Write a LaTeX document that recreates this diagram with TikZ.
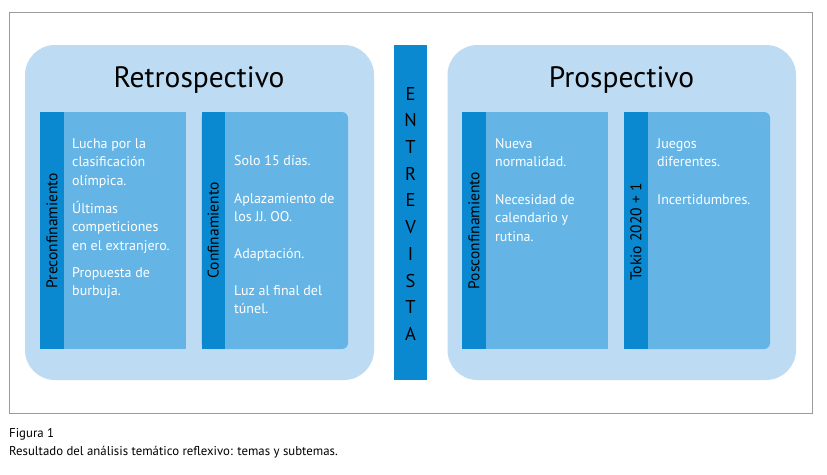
\documentclass[tikz,border=0pt]{standalone}
\usepackage{fontspec}
\setmainfont{PT Sans}
\definecolor{outerblue}{HTML}{BDDCF3}
\definecolor{midblue}{HTML}{64B5E6}
\definecolor{darkblue}{HTML}{0A89D1}
\definecolor{framegray}{HTML}{9A9A9A}
\tikzset{
  outerbox/.style={fill=outerblue, rounded corners=30pt, inner sep=0pt},
  midsq/.style={fill=midblue, inner sep=0pt},
  midrd/.style={fill=midblue, rounded corners=6pt, inner sep=0pt},
  strip/.style={fill=darkblue, inner sep=0pt},
  title/.style={font=\fontsize{29.5}{31}\selectfont, text=black, inner sep=0pt},
  vlabel/.style={font=\fontsize{15.5}{17}\selectfont, rotate=90, text=black, inner sep=0pt},
  body/.style={font=\fontsize{14}{16}\selectfont, text=white, anchor=base west, inner sep=0pt},
  letter/.style={font=\fontsize{18.5}{20}\selectfont, text=black, inner sep=0pt},
  captext/.style={font=\fontsize{12.8}{14}\selectfont, text=black, anchor=base west, inner sep=0pt}
}
\begin{document}
\begin{tikzpicture}[x=1pt,y=-1pt]
\useasboundingbox (0,0) rectangle (827,474);
\fill[white] (0,0) rectangle (827,474);
\draw[framegray, line width=1pt] (9.5,12.5) rectangle (812,413);

% outer boxes
\path[outerbox] (25,45) rectangle (374,380);
\node[title] (tR) at (199,80) {Retrospectivo};
\path[outerbox] (447.5,45) rectangle (796,380);
\node[title] (tP) at (621.5,80) {Prospectivo};

% ENTREVISTA bar
\node[strip, minimum width=33pt, minimum height=335pt] (bar) at (410.5,212.5) {};
\foreach \l/\yy [count=\i] in {E/94,N/120.5,T/147,R/174,E/200.5,V/227.5,I/254,S/281,T/307.5,A/334}
  \node[letter] (L\i) at (410.5,\yy) {\l};

% Preconfinamiento
\node[midsq, minimum width=146pt, minimum height=237pt] (preB) at (113,230.5) {};
\node[strip, minimum width=24pt, minimum height=237pt] (preS) at (52,230.5) {};
\node[vlabel] (preL) at (52,230.5) {Preconfinamiento};
\node[body] (p1) at (72,148) {Lucha por la};
\node[body] (p2) at (72,166.5) {clasificación};
\node[body] (p3) at (72,185) {olímpica.};
\node[body] (p4) at (72,213) {Últimas};
\node[body] (p5) at (72,231.5) {competiciones};
\node[body] (p6) at (72,250) {en el extranjero.};
\node[body] (p7) at (72,277) {Propuesta de};
\node[body] (p8) at (72,295.5) {burbuja.};

% Confinamiento
\node[midrd, minimum width=146.5pt, minimum height=237pt] (conB) at (274.75,230.5) {};
\node[strip, minimum width=23.5pt, minimum height=237pt] (conS) at (213.25,230.5) {};
\node[vlabel] (conL) at (213.25,230.5) {Confinamiento};
\node[body] (c1) at (234,165) {Solo 15 días.};
\node[body] (c2) at (234,203) {Aplazamiento de};
\node[body] (c3) at (234,221) {los JJ. OO.};
\node[body] (c4) at (234,258) {Adaptación.};
\node[body] (c5) at (234,295) {Luz al final del};
\node[body] (c6) at (234,313.5) {túnel.};

% Posconfinamiento
\node[midsq, minimum width=146pt, minimum height=237pt] (posB) at (535,230.5) {};
\node[strip, minimum width=24pt, minimum height=237pt] (posS) at (474,230.5) {};
\node[vlabel] (posL) at (474,230.5) {Posconfinamiento};
\node[body] (q1) at (495,148) {Nueva};
\node[body] (q2) at (495,166.5) {normalidad.};
\node[body] (q3) at (495,204) {Necesidad de};
\node[body] (q4) at (495,222) {calendario y};
\node[body] (q5) at (495,241) {rutina.};

% Tokio
\node[midrd, minimum width=146pt, minimum height=237pt] (tokB) at (697,230.5) {};
\node[strip, minimum width=24pt, minimum height=237pt] (tokS) at (636,230.5) {};
\node[vlabel] (tokL) at (636,232) {Tokio 2020 + 1};
\node[body] (k1) at (657,148) {Juegos};
\node[body] (k2) at (657,166.5) {diferentes.};
\node[body] (k3) at (657,204) {Incertidumbres.};

% caption
\node[captext] (f1) at (9,437.5) {Figura 1};
\node[captext] (f2) at (9,455) {Resultado del análisis temático reflexivo: temas y subtemas.};
\end{tikzpicture}
\end{document}
